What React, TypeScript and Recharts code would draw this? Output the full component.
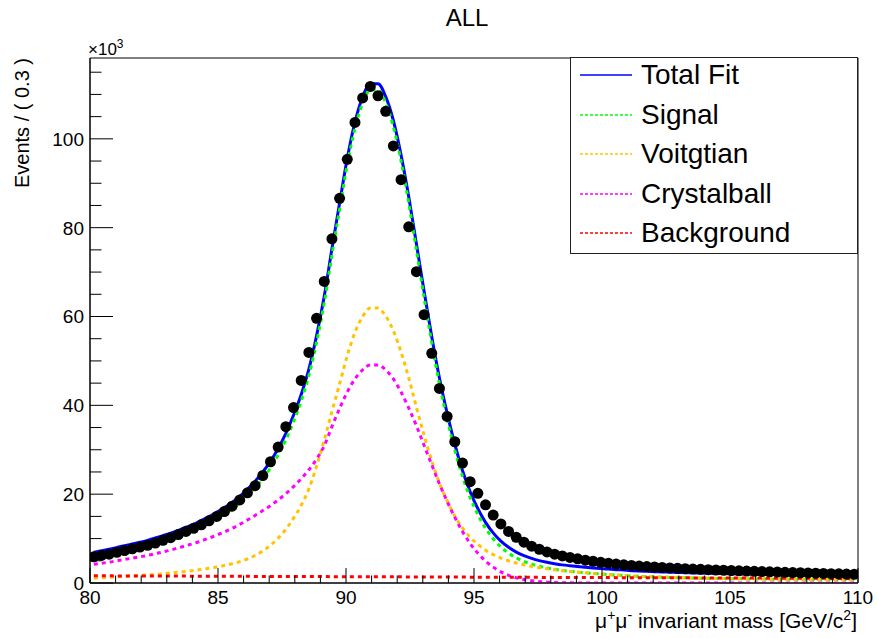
import React from 'react';
import { ComposedChart, Line, XAxis, YAxis, ReferenceArea, Legend } from 'recharts';

const FONT = '"Liberation Sans", Arial, Helvetica, sans-serif';
const Y_MAX = 118.2;

// bin centres, 0.3 GeV bins
const massBins = [
  80.15, 80.45, 80.75, 81.05, 81.35, 81.65, 81.95, 82.25, 82.55, 82.85,
  83.15, 83.45, 83.75, 84.05, 84.35, 84.65, 84.95, 85.25, 85.55, 85.85,
  86.15, 86.45, 86.75, 87.05, 87.35, 87.65, 87.95, 88.25, 88.55, 88.85,
  89.15, 89.45, 89.75, 90.05, 90.35, 90.65, 90.95, 91.25, 91.55, 91.85,
  92.15, 92.45, 92.75, 93.05, 93.35, 93.65, 93.95, 94.25, 94.55, 94.85,
  95.15, 95.45, 95.75, 96.05, 96.35, 96.65, 96.95, 97.25, 97.55, 97.85,
  98.15, 98.45, 98.75, 99.05, 99.35, 99.65, 99.95, 100.25, 100.55, 100.85,
  101.15, 101.45, 101.75, 102.05, 102.35, 102.65, 102.95, 103.25, 103.55, 103.85,
  104.15, 104.45, 104.75, 105.05, 105.35, 105.65, 105.95, 106.25, 106.55, 106.85,
  107.15, 107.45, 107.75, 108.05, 108.35, 108.65, 108.95, 109.25, 109.55, 109.85,
];

// events per bin, x10^3
const dataEvents = [
  5.9, 6.2, 6.5, 6.9, 7.3, 7.7, 8.1, 8.5, 9.0, 9.6,
  10.2, 10.9, 11.6, 12.3, 13.1, 14.0, 15.0, 16.1, 17.3, 18.7,
  20.3, 21.9, 24.2, 27.3, 30.6, 35.2, 39.5, 45.6, 51.9, 59.6,
  67.9, 77.5, 86.6, 95.4, 103.7, 109.2, 111.8, 109.7, 106.2, 98.4,
  90.8, 80.2, 70.1, 60.4, 51.7, 43.8, 37.5, 31.8, 27.0, 22.8,
  20.2, 17.6, 15.3, 13.3, 11.6, 10.3, 9.2, 8.3, 7.6, 7.0,
  6.5, 6.1, 5.75, 5.45, 5.15, 4.9, 4.65, 4.45, 4.25, 4.1,
  3.95, 3.8, 3.7, 3.6, 3.5, 3.4, 3.3, 3.22, 3.14, 3.07,
  3.0, 2.93, 2.87, 2.81, 2.75, 2.69, 2.63, 2.57, 2.51, 2.46,
  2.41, 2.36, 2.31, 2.26, 2.21, 2.16, 2.11, 2.06, 2.01, 1.96,
];

const totalFit = [
  6.92, 7.26, 7.61, 8.0, 8.4, 8.79, 9.18, 9.6, 10.12, 10.67,
  11.21, 11.87, 12.55, 13.24, 14.09, 14.93, 15.92, 16.97, 18.16, 19.51,
  21.1, 22.89, 24.99, 27.38, 30.27, 33.67, 37.76, 42.46, 48.15, 55.64,
  64.54, 75.23, 85.53, 95.62, 103.76, 109.41, 112.4, 112.4, 109.49, 104.13,
  96.38, 86.97, 76.37, 65.66, 55.45, 46.15, 38.24, 31.24, 25.33, 20.54,
  16.74, 13.66, 11.28, 9.41, 8.03, 6.96, 6.15, 5.53, 5.03, 4.65,
  4.34, 4.08, 3.88, 3.7, 3.54, 3.39, 3.25, 3.13, 3.01, 2.9,
  2.78, 2.69, 2.62, 2.55, 2.48, 2.43, 2.37, 2.33, 2.28, 2.23,
  2.19, 2.15, 2.12, 2.08, 2.05, 2.03, 2.0, 1.98, 1.95, 1.93,
  1.92, 1.9, 1.89, 1.87, 1.85, 1.85, 1.83, 1.83, 1.81, 1.8,
];

const signal = [
  5.3, 5.65, 6.0, 6.4, 6.8, 7.2, 7.6, 8.02, 8.55, 9.1,
  9.65, 10.32, 11.0, 11.7, 12.55, 13.4, 14.4, 15.45, 16.65, 18.0,
  19.6, 21.4, 23.5, 25.9, 28.8, 32.2, 36.3, 41.0, 46.7, 54.2,
  63.1, 73.8, 84.1, 94.2, 102.35, 108.0, 111.0, 111.0, 108.1, 102.75,
  95.0, 85.6, 75.0, 64.3, 54.1, 44.8, 36.9, 29.9, 24.0, 19.22,
  15.42, 12.35, 9.97, 8.11, 6.74, 5.67, 4.87, 4.25, 3.76, 3.39,
  3.08, 2.83, 2.63, 2.46, 2.31, 2.16, 2.03, 1.91, 1.8, 1.7,
  1.58, 1.5, 1.43, 1.37, 1.31, 1.26, 1.21, 1.17, 1.13, 1.09,
  1.05, 1.02, 0.99, 0.96, 0.94, 0.92, 0.9, 0.88, 0.86, 0.85,
  0.84, 0.83, 0.82, 0.81, 0.8, 0.8, 0.79, 0.79, 0.78, 0.78,
];

const voigtian = [
  1.1, 1.2, 1.3, 1.4, 1.5, 1.6, 1.7, 1.82, 1.95, 2.1,
  2.25, 2.42, 2.6, 2.8, 3.05, 3.3, 3.6, 3.95, 4.35, 4.8,
  5.4, 6.2, 7.2, 8.5, 10.1, 12.1, 14.6, 17.5, 21.2, 26.3,
  32.2, 38.6, 44.8, 51.2, 56.4, 60.0, 61.9, 61.9, 60.1, 56.8,
  52.0, 46.2, 39.6, 33.3, 27.5, 22.5, 18.5, 15.1, 12.4, 10.3,
  8.7, 7.4, 6.4, 5.6, 5.0, 4.5, 4.1, 3.75, 3.45, 3.2,
  2.97, 2.77, 2.6, 2.44, 2.3, 2.16, 2.03, 1.91, 1.8, 1.7,
  1.58, 1.5, 1.43, 1.37, 1.31, 1.26, 1.21, 1.17, 1.13, 1.09,
  1.05, 1.02, 0.99, 0.96, 0.94, 0.92, 0.9, 0.88, 0.86, 0.85,
  0.84, 0.83, 0.82, 0.81, 0.8, 0.8, 0.79, 0.79, 0.78, 0.78,
];

const crystalBall = [
  4.2, 4.45, 4.7, 5.0, 5.3, 5.6, 5.9, 6.2, 6.6, 7.0,
  7.4, 7.9, 8.4, 8.9, 9.5, 10.1, 10.8, 11.5, 12.3, 13.2,
  14.2, 15.2, 16.3, 17.4, 18.7, 20.1, 21.7, 23.5, 25.5, 27.9,
  30.9, 35.2, 39.3, 43.0, 45.95, 48.0, 49.1, 49.1, 48.0, 45.95,
  43.0, 39.4, 35.4, 31.0, 26.6, 22.3, 18.4, 14.8, 11.6, 8.92,
  6.72, 4.95, 3.57, 2.51, 1.74, 1.17, 0.77, 0.5, 0.31, 0.19,
  0.11, 0.06, 0.03, 0.02, 0.01, 0, 0, 0, 0, 0,
  0, 0, 0, 0, 0, 0, 0, 0, 0, 0,
  0, 0, 0, 0, 0, 0, 0, 0, 0, 0,
  0, 0, 0, 0, 0, 0, 0, 0, 0, 0,
];

const background = [
  1.62, 1.61, 1.61, 1.6, 1.6, 1.59, 1.58, 1.58, 1.57, 1.57,
  1.56, 1.55, 1.55, 1.54, 1.54, 1.53, 1.52, 1.52, 1.51, 1.51,
  1.5, 1.49, 1.49, 1.48, 1.47, 1.47, 1.46, 1.46, 1.45, 1.44,
  1.44, 1.43, 1.43, 1.42, 1.41, 1.41, 1.4, 1.4, 1.39, 1.38,
  1.38, 1.37, 1.37, 1.36, 1.35, 1.35, 1.34, 1.34, 1.33, 1.32,
  1.32, 1.31, 1.31, 1.3, 1.29, 1.29, 1.28, 1.28, 1.27, 1.26,
  1.26, 1.25, 1.25, 1.24, 1.23, 1.23, 1.22, 1.22, 1.21, 1.2,
  1.2, 1.19, 1.19, 1.18, 1.17, 1.17, 1.16, 1.16, 1.15, 1.14,
  1.14, 1.13, 1.13, 1.12, 1.11, 1.11, 1.1, 1.1, 1.09, 1.08,
  1.08, 1.07, 1.07, 1.06, 1.05, 1.05, 1.04, 1.04, 1.03, 1.02,
];

const xTicks = [
  80, 81, 82, 83, 84, 85, 86, 87, 88, 89, 90, 91, 92, 93, 94, 95,
  96, 97, 98, 99, 100, 101, 102, 103, 104, 105, 106, 107, 108, 109, 110,
];
const yTicks = [
  0, 5, 10, 15, 20, 25, 30, 35, 40, 45, 50, 55, 60,
  65, 70, 75, 80, 85, 90, 95, 100, 105, 110, 115,
];

const rows = massBins.map((m, i) => ({
  m,
  data: dataEvents[i],
  total: totalFit[i],
  signal: signal[i],
  voigt: voigtian[i],
  cb: crystalBall[i],
  bkg: background[i],
}));

const series = [
  { key: 'total', name: 'Total Fit', color: '#0000ff', dash: undefined as string | undefined },
  { key: 'signal', name: 'Signal', color: '#00ff00', dash: '4 4' },
  { key: 'voigt', name: 'Voitgtian', color: '#ffc300', dash: '4 4' },
  { key: 'cb', name: 'Crystalball', color: '#ff00ff', dash: '4 4' },
  { key: 'bkg', name: 'Background', color: '#ff0000', dash: '4 4' },
];

// ROOT style: ticks point into the frame, labels outside
const renderYTick = (props: any) => {
  const { x, y, payload } = props;
  const major = payload.value % 20 === 0;
  return (
    <g key={`y-${payload.value}`}>
      <line x1={x} y1={y} x2={x + (major ? 23 : 11.5)} y2={y} stroke="#000" strokeWidth={1} />
      {major && (
        <text x={x - 6} y={y} dy="0.36em" textAnchor="end" fontSize={19} fontFamily={FONT} fill="#000">
          {payload.value}
        </text>
      )}
    </g>
  );
};

const renderXTick = (props: any) => {
  const { x, y, payload } = props;
  const major = payload.value % 5 === 0;
  return (
    <g key={`x-${payload.value}`}>
      <line x1={x} y1={y} x2={x} y2={y - (major ? 15 : 7.5)} stroke="#000" strokeWidth={1} />
      {major && (
        <text x={x} y={y + 21} textAnchor="middle" fontSize={19} fontFamily={FONT} fill="#000">
          {payload.value}
        </text>
      )}
    </g>
  );
};

const renderLegend = () => (
  <div
    style={{
      position: 'relative',
      width: 288,
      height: 197,
      border: '1.5px solid #222',
      boxSizing: 'border-box',
      background: '#fff',
      fontFamily: FONT,
    }}
  >
    {series.map((s, i) => (
      <div
        key={s.key}
        style={{ position: 'absolute', left: 9, top: i * 39.6, height: 34, display: 'flex', alignItems: 'center' }}
      >
        <svg width={54} height={4} style={{ display: 'block' }}>
          <line x1={0} x2={52} y1={2} y2={2} stroke={s.color} strokeWidth={1.3} strokeDasharray={s.dash ? '3 2' : undefined} />
        </svg>
        <span style={{ marginLeft: 7, fontSize: 28, color: '#000', lineHeight: '34px' }}>{s.name}</span>
      </div>
    ))}
  </div>
);

export default function App() {
  return (
    <div style={{ position: 'absolute', left: 0, top: 0, width: 877, height: 638, background: '#fff', fontFamily: FONT }}>
      <ComposedChart width={877} height={638} data={rows} margin={{ top: 58, right: 19, bottom: 54, left: 89 }}>
        <XAxis
          dataKey="m"
          type="number"
          domain={[80, 110]}
          ticks={xTicks}
          interval={0}
          height={1}
          tickSize={0}
          tickMargin={0}
          tickLine={false}
          tick={renderXTick}
          axisLine={{ stroke: '#000' }}
          allowDataOverflow
        />
        <YAxis
          type="number"
          domain={[0, Y_MAX]}
          ticks={yTicks}
          interval={0}
          width={1}
          tickSize={0}
          tickMargin={0}
          tickLine={false}
          tick={renderYTick}
          axisLine={{ stroke: '#000' }}
          allowDataOverflow
        />
        <ReferenceArea x1={80} x2={110} y1={0} y2={Y_MAX} fill="none" stroke="#000" strokeWidth={1} />
        <Line
          dataKey="data"
          stroke="none"
          dot={{ r: 5.5, fill: '#000', stroke: 'none' }}
          isAnimationActive={false}
          legendType="none"
        />
        {series.map((s) => (
          <Line
            key={s.key}
            type="monotone"
            dataKey={s.key}
            name={s.name}
            stroke={s.color}
            strokeWidth={3}
            strokeDasharray={s.dash}
            dot={false}
            isAnimationActive={false}
          />
        ))}
        <Legend
          content={renderLegend}
          layout="horizontal"
          verticalAlign="middle"
          align="center"
          wrapperStyle={{ position: 'absolute', left: 570, top: 57, width: 288, height: 197 }}
        />
      </ComposedChart>
      <svg
        width={877}
        height={638}
        style={{ position: 'absolute', left: 0, top: 0, pointerEvents: 'none' }}
        fontFamily={FONT}
      >
        <text x={467} y={26} textAnchor="middle" fontSize={24} fill="#000">ALL</text>
        <text x={88} y={55} fontSize={17} fill="#000">
          ×10<tspan dy={-7} fontSize={12}>3</tspan>
        </text>
        <text transform="translate(29,58) rotate(-90)" textAnchor="end" fontSize={20} fill="#000">
          Events / ( 0.3 )
        </text>
        <text x={857} y={628} textAnchor="end" fontSize={21} fill="#000">
          μ<tspan dy={-8} fontSize={14}>+</tspan>
          <tspan dy={8}>μ</tspan>
          <tspan dy={-8} fontSize={14}>-</tspan>
          <tspan dy={8}> invariant mass [GeV/c</tspan>
          <tspan dy={-8} fontSize={14}>2</tspan>
          <tspan dy={8}>]</tspan>
        </text>
      </svg>
    </div>
  );
}
